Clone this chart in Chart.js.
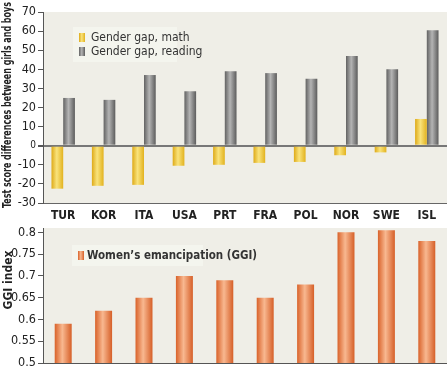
<!DOCTYPE html>
<html>
<head>
<meta charset="utf-8">
<script src="https://cdn.jsdelivr.net/npm/chart.js@4/dist/chart.umd.min.js"></script>
<style>
  body { margin: 0; background: #fff; }
  canvas { display: block; }
</style>
</head>
<body>
<canvas id="gapChart" width="447" height="225"></canvas>
<canvas id="ggiChart" width="447" height="144"></canvas>
<script>
// data
const countries = ['TUR', 'KOR', 'ITA', 'USA', 'PRT', 'FRA', 'POL', 'NOR', 'SWE', 'ISL'];
const mathGap = [-22.5, -21, -20.5, -10.5, -10, -9, -8.5, -5, -3.5, 14];
const readingGap = [25, 24, 37, 28.5, 39, 38, 35, 47, 40, 60.5];
const ggiIndex = [0.59, 0.62, 0.65, 0.70, 0.69, 0.65, 0.68, 0.80, 0.805, 0.78];
const gapTicks = [-30, -20, -10, 0, 10, 20, 30, 40, 50, 60, 70];
const ggiTicks = [0.5, 0.55, 0.6, 0.65, 0.7, 0.75, 0.8];

// edge / highlight / edge
const shades = {
  math: ['#deaa18', '#f9e37c', '#e2b21e'],
  reading: ['#626262', '#b4b4b4', '#5c5c5c'],
  ggi: ['#d9622a', '#f8b890', '#d65f28']
};

const FONT = "'DejaVu Sans Condensed', 'Open Sans', sans-serif";
const PLOT_BG = '#efeee7';

const plotBackground = {
  id: 'plotBackground',
  beforeDraw(chart) {
    const { ctx, chartArea: a } = chart;
    ctx.save();
    ctx.fillStyle = PLOT_BG;
    ctx.fillRect(a.left, a.top, a.right - a.left, a.bottom - a.top);
    ctx.restore();
  }
};

function shadeGradient(ctx, x0, x1, stops) {
  const g = ctx.createLinearGradient(x0, 0, x1, 0);
  g.addColorStop(0, stops[0]);
  g.addColorStop(0.45, stops[1]);
  g.addColorStop(1, stops[2]);
  return g;
}

// cylinder-like shading on each bar
const barShading = {
  id: 'barShading',
  beforeDatasetsDraw(chart) {
    const ctx = chart.ctx;
    chart.data.datasets.forEach((ds, i) => {
      chart.getDatasetMeta(i).data.forEach(bar => {
        bar.options.backgroundColor = shadeGradient(ctx, bar.x - bar.width / 2, bar.x + bar.width / 2, ds.shade);
      });
    });
  }
};

// legend box sitting inside the plot area
const insetLegend = {
  id: 'insetLegend',
  afterDraw(chart, args, opts) {
    const ctx = chart.ctx;
    ctx.save();
    ctx.fillStyle = opts.boxColor;
    ctx.fillRect(opts.x, opts.y, opts.width, opts.height);
    ctx.font = opts.font;
    ctx.textBaseline = 'middle';
    chart.data.datasets.forEach((ds, i) => {
      const cy = opts.y + opts.firstRow + i * opts.rowGap;
      const sx = opts.x + opts.swatchOffset;
      ctx.fillStyle = shadeGradient(ctx, sx, sx + 6, ds.shade);
      ctx.fillRect(sx, cy - 4, 6, 9);
      ctx.fillStyle = '#333';
      ctx.fillText(ds.label, opts.x + opts.textOffset, cy + 1);
    });
    ctx.restore();
  }
};

// rotated axis title, squeezed to the narrow face of the original
const sideTitle = {
  id: 'sideTitle',
  afterDraw(chart, args, opts) {
    const ctx = chart.ctx;
    ctx.save();
    ctx.translate(opts.x, opts.y);
    ctx.rotate(-Math.PI / 2);
    ctx.font = opts.font;
    ctx.fillStyle = '#222';
    ctx.textAlign = 'center';
    ctx.textBaseline = 'middle';
    ctx.fillText(opts.text, 0, 0, opts.maxWidth);
    ctx.restore();
  }
};

// keep the tick labels from pushing the plot area inwards
const noLabelPadding = s => { s.paddingTop = 0; s.paddingBottom = 0; };

new Chart(document.getElementById('gapChart'), {
  type: 'bar',
  data: {
    labels: countries,
    datasets: [
      { label: 'Gender gap, math', data: mathGap, shade: shades.math, backgroundColor: () => shades.math[1] },
      { label: 'Gender gap, reading', data: readingGap, shade: shades.reading, backgroundColor: () => shades.reading[1] }
    ]
  },
  options: {
    responsive: false,
    animation: false,
    layout: { padding: { top: 12, right: 0, left: 0, bottom: 0 } },
    datasets: { bar: { categoryPercentage: 0.58, barPercentage: 1 } },
    plugins: {
      legend: { display: false },
      tooltip: { enabled: false },
      insetLegend: {
        x: 73, y: 27, width: 104, height: 35, firstRow: 10, rowGap: 14,
        swatchOffset: 6, textOffset: 18, boxColor: '#f4f5ee',
        font: `12px ${FONT}`
      },
      sideTitle: {
        text: 'Test score differences between girls and boys',
        x: 8, y: 105, maxWidth: 206,
        font: `bold 12px ${FONT}`
      }
    },
    scales: {
      x: {
        grid: { display: false, drawTicks: false },
        border: { color: '#666' },
        ticks: { color: '#222', font: { family: FONT, size: 12, weight: 'bold' }, padding: 6 },
        afterFit: s => { s.height = 22; }
      },
      y: {
        min: -30,
        max: 70,
        afterBuildTicks: s => { s.ticks = gapTicks.map(v => ({ value: v })); },
        afterFit: s => { s.width = 43; noLabelPadding(s); },
        border: { color: '#555' },
        grid: {
          color: c => (c.tick && c.tick.value === 0 ? '#777' : 'transparent'),
          lineWidth: c => (c.tick && c.tick.value === 0 ? 2 : 1),
          tickColor: '#555',
          tickLength: 5
        },
        ticks: {
          color: '#222',
          padding: 2,
          font: c => ({ family: FONT, size: c.tick && c.tick.value === 0 ? 10 : 12.5 })
        }
      }
    }
  },
  plugins: [plotBackground, barShading, insetLegend, sideTitle]
});

new Chart(document.getElementById('ggiChart'), {
  type: 'bar',
  data: {
    labels: countries,
    datasets: [
      { label: 'Women\u2019s emancipation (GGI)', data: ggiIndex, shade: shades.ggi, backgroundColor: () => shades.ggi[1] }
    ]
  },
  options: {
    responsive: false,
    animation: false,
    layout: { padding: { top: 3, right: 0, left: 0, bottom: 0 } },
    datasets: { bar: { categoryPercentage: 1, barPercentage: 0.42 } },
    plugins: {
      legend: { display: false },
      tooltip: { enabled: false },
      insetLegend: {
        x: 72, y: 20, width: 131, height: 21, firstRow: 10, rowGap: 14,
        swatchOffset: 6, textOffset: 15, boxColor: '#f4f5ee',
        font: `bold 11.5px ${FONT}`
      },
      sideTitle: {
        text: 'GGI index',
        x: 9, y: 55, maxWidth: 60,
        font: `bold 12px ${FONT}`
      }
    },
    scales: {
      x: {
        grid: { display: false, drawTicks: false },
        border: { color: '#555' },
        ticks: { display: false },
        afterFit: s => { s.height = 6; }
      },
      y: {
        min: 0.5,
        max: 0.81,
        afterBuildTicks: s => { s.ticks = ggiTicks.map(v => ({ value: v })); },
        afterFit: s => { s.width = 43; noLabelPadding(s); },
        border: { color: '#555' },
        grid: { drawOnChartArea: false, tickColor: '#555', tickLength: 5 },
        ticks: { color: '#222', padding: 2, font: { family: FONT, size: 12.5 }, callback: v => String(v) }
      }
    }
  },
  plugins: [plotBackground, barShading, insetLegend, sideTitle]
});
</script>
</body>
</html>
